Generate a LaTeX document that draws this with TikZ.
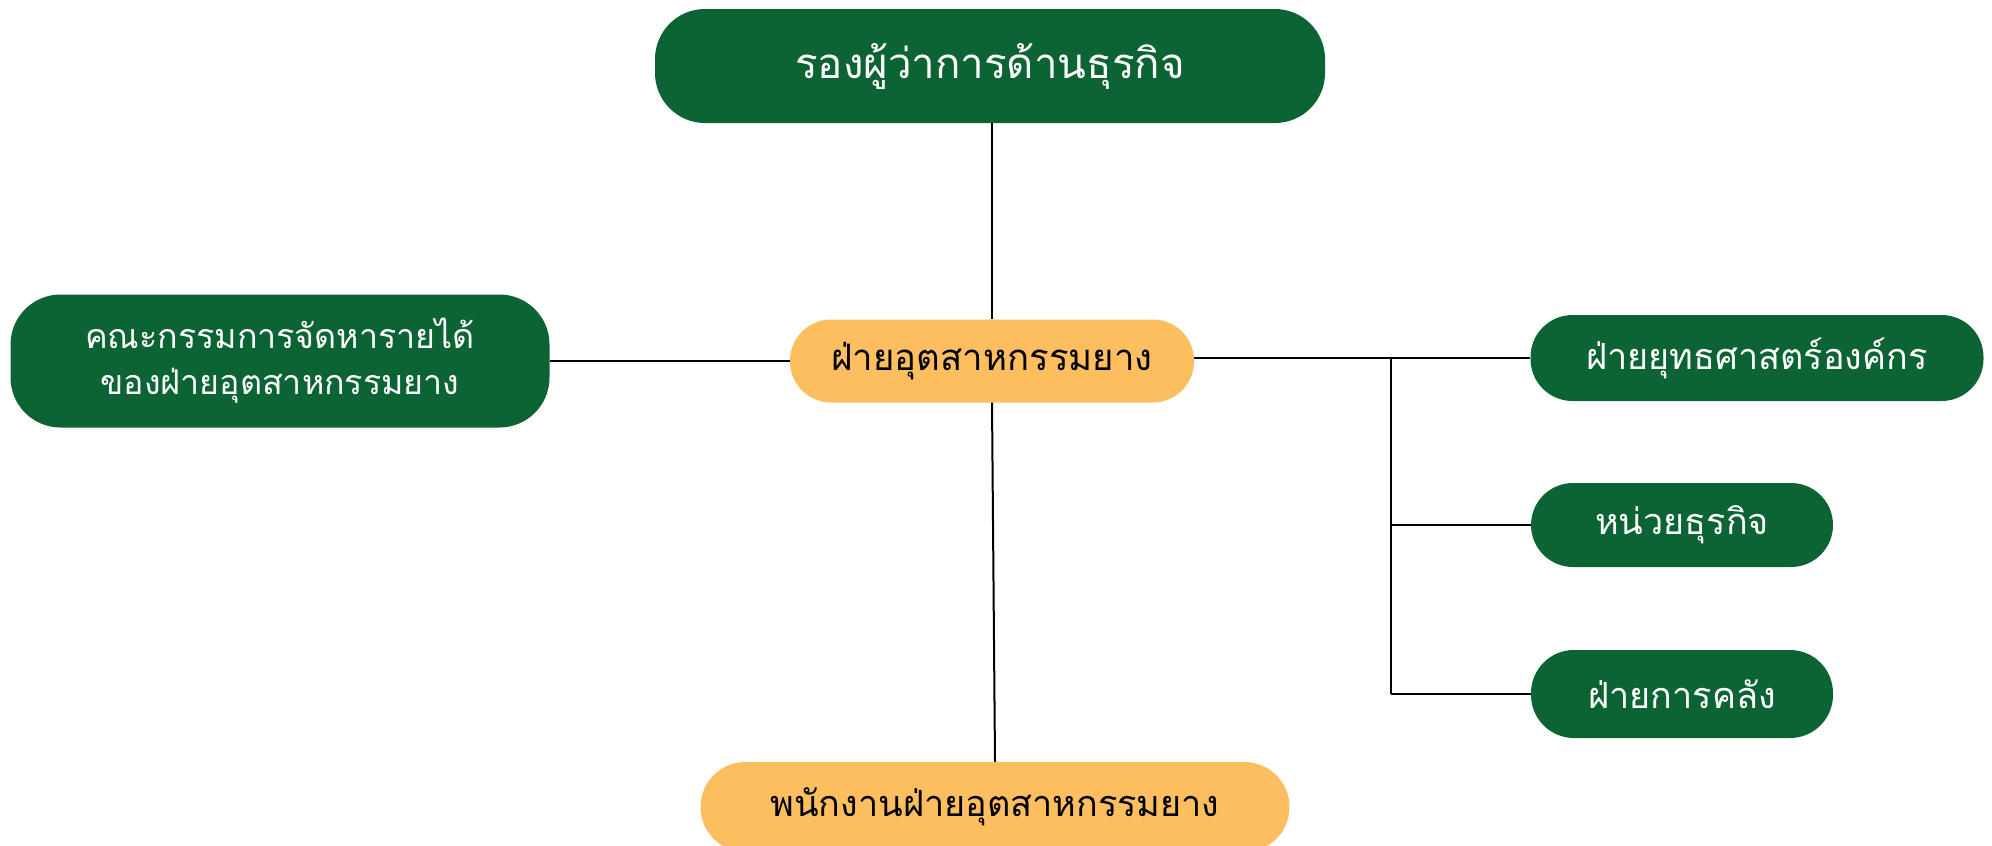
\documentclass[tikz,border=0pt]{standalone}
\usepackage{fontspec}
\newfontfamily\thaifont[Script=Thai]{Loma}
\definecolor{dgreen}{HTML}{0C6434}
\definecolor{lorange}{HTML}{FCBE5E}
\begin{document}
\begin{tikzpicture}[x=1pt,y=-1pt,
  greenbox/.style={fill=dgreen,text=white,rounded corners=#1,inner sep=0pt,align=center},
  orangebox/.style={fill=lorange,text=black,rounded corners=#1,inner sep=0pt,align=center},
  conn/.style={draw=black,line width=2pt}]
\useasboundingbox (0,0) rectangle (1992,846);
\clip (0,0) rectangle (1992,846);
\node[greenbox=50pt,minimum width=670pt,minimum height=114pt] (top) at (990,66)
  {\thaifont\fontsize{42}{50}\selectfont รองผู้ว่าการด้านธุรกิจ};
\node[greenbox=50pt,minimum width=539pt,minimum height=133pt,font=\thaifont\fontsize{34}{46}\selectfont] (left) at (280,361)
  {คณะกรรมการจัดหารายได้\\ของฝ่ายอุตสาหกรรมยาง};
\node[orangebox=41pt,minimum width=404pt,minimum height=83pt] (center) at (992,361)
  {\thaifont\fontsize{36.5}{44}\selectfont ฝ่ายอุตสาหกรรมยาง};
\node[greenbox=42pt,minimum width=453pt,minimum height=86pt] (r1) at (1757,358)
  {\thaifont\fontsize{36}{44}\selectfont ฝ่ายยุทธศาสตร์องค์กร};
\node[greenbox=42pt,minimum width=302pt,minimum height=84pt] (r2) at (1682,525)
  {\thaifont\fontsize{36}{44}\selectfont หน่วยธุรกิจ};
\node[greenbox=43pt,minimum width=302pt,minimum height=88pt] (r3) at (1682,694)
  {\thaifont\fontsize{36}{44}\selectfont ฝ่ายการคลัง};
\node[orangebox=45pt,minimum width=589pt,minimum height=90pt] (bottom) at (995,807)
  {\thaifont\fontsize{36}{44}\selectfont พนักงานฝ่ายอุตสาหกรรมยาง};
\coordinate (br) at (1391,358);
\draw[conn] (center.north) -- (center.north |- top.south);
\draw[conn] (left.east) -- (center.west);
\draw[conn] (r1.west -| center.east) -- (r1.west);
\draw[conn] (br) -- (br |- r3.west);
\draw[conn] (br |- r2.west) -- (r2.west);
\draw[conn] (br |- r3.west) -- (r3.west);
\draw[conn] (center.south) -- (bottom.north);
\end{tikzpicture}
\end{document}
